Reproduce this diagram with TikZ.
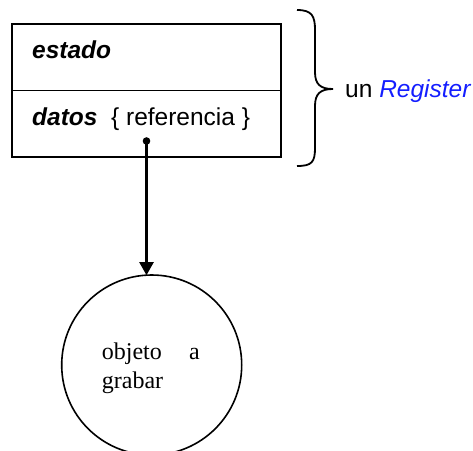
\documentclass[tikz,border=0pt]{standalone}
\usepackage{fontspec}
\setmainfont{Liberation Serif}
\setsansfont{Liberation Sans}
\usetikzlibrary{arrows.meta}
\definecolor{regblue}{RGB}{20,30,255}
\begin{document}
\begin{tikzpicture}[x=1pt,y=-1pt,
  lbl/.style={anchor=base west,inner sep=0pt,font=\sffamily\fontsize{24.5}{28}\selectfont},
  serif/.style={anchor=base west,inner sep=0pt,font=\rmfamily\fontsize{24}{28}\selectfont},
  ln/.style={line width=1.8pt}]
\useasboundingbox (0,0) rectangle (473,450);
\draw[ln] (12,24) rectangle (281,157);
\draw[ln] (12,90.5) -- (281,90.5);
\node[lbl] (estado) at (32,58) {\bfseries\itshape estado};
\node[lbl] (datos) at (32,125) {\bfseries\itshape datos\ \ \mdseries\upshape\{ referencia \}};
\fill (146.5,141) circle (3.8) coordinate (dot);
\node[circle,draw,line width=1.6pt,minimum size=180pt,inner sep=0pt] (obj) at (151.7,365) {};
\coordinate (hit) at (146.5,275.2);
\draw[line width=2.2pt,-{Triangle[length=13pt,width=14pt]}] (dot) -- (hit);
\node[serif] (t1) at (101.7,359) {objeto};
\node[serif] (t2) at (189,359) {a};
\node[serif] (t3) at (101.7,388) {grabar};
\draw[ln] (297,10) .. controls (312,10) and (315,16) .. (315,30)
  -- (315,72) .. controls (315,84) and (320,89) .. (333,89)
  .. controls (320,89) and (315,94) .. (315,106)
  -- (315,148) .. controls (315,162) and (312,166) .. (297,166);
\coordinate (tip) at (333,89);
\node[lbl] (reg) at (345,97) {un \textcolor{regblue}{\itshape Register}};
\end{tikzpicture}
\end{document}
